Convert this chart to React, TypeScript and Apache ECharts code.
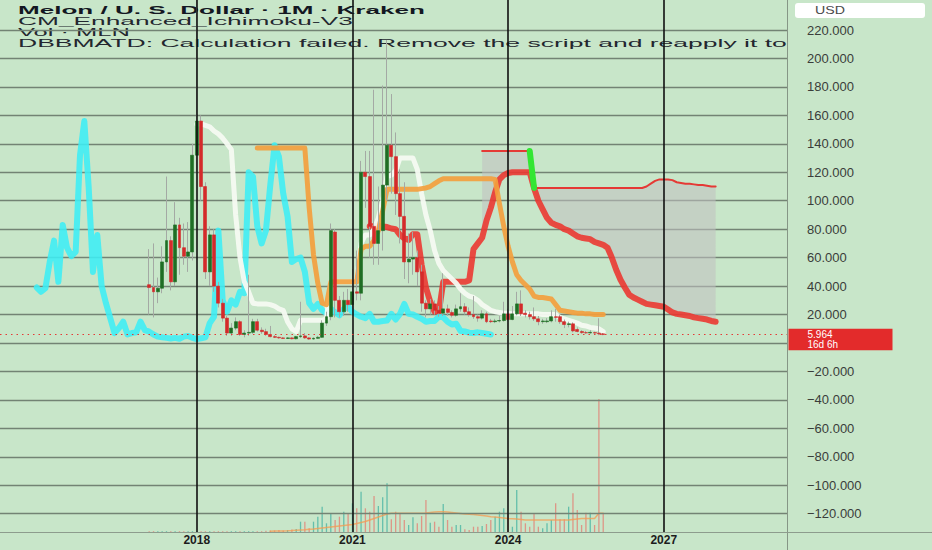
import React, { useEffect, useRef } from "react";
import * as echarts from "echarts";

// ---------- axis categories (monthly) ----------
const AXIS_START_YEAR = 2014;
const AXIS_START_MONTH = 4;
const MONTH_COUNT = 182;
const categories: string[] = [];
for (let i = 0; i < MONTH_COUNT; i++) {
  const m = AXIS_START_MONTH - 1 + i;
  const y = AXIS_START_YEAR + Math.floor(m / 12);
  const mm = (m % 12) + 1;
  categories.push(`${y}-${String(mm).padStart(2, "0")}`);
}
const yearTicks = ["2018-01", "2021-01", "2024-01", "2027-01"];

// ---------- price candles [open, close, low, high], monthly from 2017-02 ----------
const CANDLE_START = "2017-02";
const candles: [number, number, number, number][] = [
  [41, 39, 20, 66], [39, 36, 18, 70], [36, 38.5, 28, 46], [38.5, 57, 35, 68], [57, 72, 50, 117],
  [72, 43, 37, 75], [43, 83, 40, 99], [83, 67, 48, 88], [67, 61, 55, 84], [61, 64, 50, 85], [64, 132, 58, 140],
  // 2018
  [132, 156, 120, 275], [156, 110, 100, 160], [110, 50, 45, 113], [50, 76, 40, 82], [76, 40, 36, 80], [40, 28, 25, 43],
  [28, 17.5, 15, 31], [17.5, 7, 5, 19], [7, 10.5, 5, 14], [10.5, 15, 9, 18], [15, 6, 5, 16], [6, 7, 4, 9],
  // 2019
  [7, 7.5, 5, 48], [7.5, 15, 6.5, 17], [15, 9, 8, 17], [9, 8, 6.5, 11], [8, 6, 5, 10], [6, 4.5, 4, 12],
  [4.5, 4, 3.5, 5.5], [4, 3.6, 3, 4.5], [3.6, 3.2, 2.8, 4], [3.2, 3.6, 2.8, 4.2], [3.6, 3, 2.6, 4], [3, 4.5, 2.6, 5],
  // 2020
  [4.5, 5, 3.5, 29], [5, 3.6, 3, 7], [3.6, 2.8, 2.3, 4], [2.8, 3.3, 2.5, 4], [3.3, 4, 3, 5], [4, 14, 3.8, 16],
  [14, 18.5, 12, 22], [18.5, 79, 16, 84], [78, 30, 18, 80], [30, 22, 18, 33], [22, 30, 19, 36], [30, 27, 22, 38],
  // 2021
  [27, 36, 24, 52], [36, 35, 30, 65], [35, 120, 30, 128], [120, 117, 95, 135], [117, 82, 60, 135], [82, 70, 55, 178],
  [70, 79, 55, 110], [79, 111, 65, 181], [111, 139, 100, 213], [139, 131, 105, 175], [131, 105, 90, 148], [105, 89, 70, 122],
  // 2022
  [89, 57, 45, 113], [57, 59, 42, 77], [59, 60, 48, 78], [60, 50, 40, 65], [50, 28, 22, 55], [28, 24, 18, 30],
  [24, 27.5, 20, 31], [27.5, 23, 20, 30], [23, 21, 18.5, 26], [21, 24, 19, 49], [24, 21.5, 19, 27], [21.5, 19.5, 18, 23],
  // 2023
  [19.5, 24, 18.5, 27], [24, 25.5, 22, 35], [25.5, 22, 20, 28], [22, 20, 18.5, 25], [20, 18.5, 17, 33], [18.5, 17.5, 15, 20],
  [17.5, 20.5, 16.5, 23], [20.5, 15, 14, 22], [15.5, 15, 14, 17], [15, 15.5, 14, 17], [15.5, 15.8, 14.5, 19], [15.8, 20.5, 15, 29],
  // 2024
  [20.5, 16.5, 15.5, 24], [16.5, 20.5, 16, 26], [20.5, 27.5, 19.5, 36], [27.5, 20.5, 19, 37], [21, 20, 18, 23], [20, 18.5, 16.5, 22],
  [18.5, 17, 15.5, 25], [17, 15, 12.5, 19], [15, 15.5, 13.5, 17], [15, 15.5, 14, 17.5], [15.5, 18.5, 14.5, 23], [18.5, 18, 15, 24],
  // 2025
  [18.5, 15, 13.5, 20], [15, 13, 10.5, 16.5], [13, 13.5, 11, 15], [13.5, 8.5, 7.5, 14.5], [9.5, 8.1, 7.5, 11], [8.1, 7.3, 6.5, 9],
  [7.3, 7.1, 6.5, 8.5], [7.1, 7.5, 6.6, 9], [7.3, 7, 6.5, 8], [7, 6.5, 5.5, 17.4], [6.5, 5.964, 5.5, 7],
];
const LAST_PRICE = 5.964;
const COUNTDOWN = "16d 6h";

// ---------- volume (same months as candles) ----------
const volume = [
  0.8, 0.8, 0.8, 0.8, 0.8, 0.8, 0.8, 0.8, 0.8, 0.8, 0.8, 0.8, 0.8, 0.8, 0.8, 0.8, 0.8, 0.8, 0.8, 0.8, 0.8, 0.8, 0.8, 0.8, 0.8, 0.8, 0.8,
  1.2, 1.5, 1.5, 2, 1.5, 2, 2.5, 3,
  10.3, 10.3, 3.7, 10.3, 15.3, 25.3, 8.7, 18.7, 12, 15.3, 20.3, 18.7, 28.7, 23.7, 40.3, 23.7, 20.3, 36, 26, 34.7, 48.7,
  12.7, 20.3, 18.7, 12, 7, 14.7, 8.7, 16, 32, 9.3, 10.3, 5.3, 28, 12, 5.3, 7, 7, 2.7, 2, 5.3, 5.3, 6, 8, 12, 15.3, 20.3,
  23.7, 18, 5.3, 42, 20.3, 8.7, 5.3, 18.7, 5.3, 3.7, 8.7, 12, 28.7, 12.7, 12.7, 25.3, 38.7, 22, 7, 19.3, 19.3, 7, 133, 18.7,
];
const VOLUME_MA_START = "2019-06";
const volumeMA = [
  0.8, 0.9, 1, 1.1, 1.2, 1.4, 1.7, 2, 2.3, 2.7, 3, 3.5, 4, 4.5, 5, 5.5, 6, 6.5, 7, 7.5, 8.5, 9.5, 10.5, 12, 13.5, 15, 16.5, 18,
  18.7, 18.7, 18.7, 18.7, 18.7, 18.7, 18.7, 18.7,
  19, 19.5, 20, 20.3, 20.3, 20, 19.5, 19, 18.5, 18, 17.7, 17.5, 17, 16.5, 16, 15.3, 15, 14.5, 14, 13.5, 13.3, 13,
  12.5, 12, 12, 12, 12, 12, 12, 12, 12, 12, 12, 12,
  12.5, 13, 13.5, 13.5, 13.5, 13.5, 18.7, 18.7,
];

// ---------- Ichimoku lines ----------
const CHIKOU_SHIFT = 26; // lagging span = closes drawn 26 months back
const TENKAN_START = "2018-01";
const tenkan = [
  154, 154, 153, 152, 149, 147, 144, 140, 136, 90, 60, 43, 36, 28, 27.5, 27.5, 27.5, 27, 26, 24, 23, 15, 10, 8,
  16, 16, 16, 16, 16, 16, 17, 43, 43, 43, 43, 43, 43, 44, 70, 76, 76, 80, 88, 100, 117, 118, 121, 130, 130, 130, 130,
  122, 105, 90, 79, 65, 56, 51, 48, 45, 42, 38, 35, 33, 32, 30, 27, 25, 23, 22, 21.5, 21, 21,
  20.5, 20.5, 20.5, 20.5, 20.5, 20.5, 20.5, 20, 20, 20, 20, 18, 17, 16, 15, 14, 12.5, 12, 11, 10.5, 10, 8,
];
const KIJUN_START = "2019-03";
const kijun = [
  137, 137, 137, 137, 137, 137, 137, 137, 137, 137, 137, 137, 95, 62, 42, 28, 27, 43, 43, 43, 43, 43, 43, 43,
  66, 68, 68, 72, 79, 93, 108, 108, 108, 108, 108, 108, 108, 108, 108.5, 109, 110, 112, 114, 115.5,
  115.5, 115.5, 115.5, 115.5, 115.5, 115.5, 115.5, 115.5, 115.5, 115.5, 115.5,
  115, 98, 82, 68, 57, 48, 44, 41, 38, 33, 32, 32, 31.5, 31, 27, 23, 22.5, 22, 21.5, 21, 21, 20.5, 20.5, 20, 20, 20,
];
const SENKOU_A_START = "2021-05";
const senkouA = [
  82, 82, 82, 82, 81.5, 80.5, 80, 76, 73.5, 72.5, 76.5, 76.5, 55, 39, 29, 22, 22, 43, 43, 43, 43, 43, 43, 44,
  66, 70, 74, 86, 95, 106, 115, 118, 119.5, 120, 120, 120, 120, 120,
  109, 100, 94, 88, 84.5, 83, 82, 80, 79, 77, 75, 74, 73.5, 73, 71, 70, 69, 67,
  60, 51.5, 44.5, 39, 34, 32, 30.5, 29, 27.5, 27, 26.5, 26, 25.5, 23.5, 21.5, 20.5, 20, 19.5, 19, 18, 17.5, 17, 16.5, 15.5, 15,
];
const SENKOU_B_START = "2023-07";
const senkouB = [
  135, 135, 135, 135, 135, 135, 135, 135, 135, 135, 135, 135,
  109, 109, 109, 109, 109, 109, 109, 109, 109, 109, 109, 109, 109, 109, 109, 109, 109, 109, 109, 109, 109, 109, 109, 109, 109, 109,
  110, 112, 114, 115, 115, 115, 114.5, 113, 112.5, 112, 112, 111.5, 111, 111, 110.5, 110, 110,
];
const SENKOU_CROSS_START = "2024-06";
const senkouCross = [135, 109];

// ---------- header texts ----------
const headerLines = [
  "Melon / U. S. Dollar · 1M · Kraken",
  "CM_Enhanced_Ichimoku-V3",
  "Vol · MLN",
  "DBBMATD: Calculation failed. Remove the script and reapply it to",
];
const currencyLabel = "USD";

const FONT = '"Liberation Sans", Arial, sans-serif';
const BG = "#c8e6c9";

function ci(key: string) {
  return categories.indexOf(key);
}
function place(start: string, values: (number | null | object)[]) {
  const out: any[] = new Array(categories.length).fill(null);
  const s = ci(start);
  values.forEach((v, i) => {
    if (s + i >= 0 && s + i < out.length) out[s + i] = v;
  });
  return out;
}
function textWidth(text: string, font: string) {
  const ctx = document.createElement("canvas").getContext("2d");
  if (!ctx) return text.length * 7;
  ctx.font = font;
  return ctx.measureText(text).width;
}

export default function App() {
  const ref = useRef<HTMLDivElement>(null);

  useEffect(() => {
    if (!ref.current) return;
    const chart = echarts.init(ref.current, undefined, { renderer: "svg" });

    const c0 = ci(CANDLE_START);
    const wickData = candles.map(([o, c, l, h], i) => [c0 + i, o, c, l, h]);
    const bodyData = candles.map(([o, c], i) => [c0 + i, o, c, Math.min(o, c), Math.max(o, c)]);
    const closes = candles.map((k) => k[1]);
    const chikou = place(categories[c0 - CHIKOU_SHIFT], closes);

    const VOL_UP = "rgba(38,166,154,0.62)";
    const VOL_DOWN = "rgba(239,83,80,0.55)";
    const volData = place(
      CANDLE_START,
      volume.map((v, i) => ({
        value: v,
        itemStyle: { color: candles[i][1] >= candles[i][0] ? VOL_UP : VOL_DOWN },
      }))
    );

    const aFull = place(SENKOU_A_START, senkouA);
    const bFull = place(SENKOU_B_START, senkouB);
    const cloudBase = bFull.map((b, i) => (b == null || aFull[i] == null ? null : Math.min(b, aFull[i])));
    const cloudSpan = bFull.map((b, i) => (b == null || aFull[i] == null ? null : Math.abs(b - aFull[i])));

    // split line colours: hide the lines at -140 (below pane), 240 and the top extent
    const gridColors: string[] = [];
    for (let i = 0; i < 21; i++) gridColors.push(i === 0 || i >= 19 ? "rgba(0,0,0,0)" : "#738374");

    // header text widths (the reference is horizontally stretched)
    const HF = 11;
    const boldFont = `bold ${HF}px ${FONT}`;
    const regFont = `${HF}px ${FONT}`;
    const s1 = 407 / textWidth(headerLines[0], boldFont);
    const s2 = 335 / textWidth(headerLines[1], regFont);
    const s3 = 112 / textWidth(headerLines[2], regFont);
    const s4 = 625 / textWidth("DBBMATD: Calculation failed. Remove the script and", regFont);
    const headerY = [9.8, 21, 32.3, 43];
    const headerScale = [s1, s2, s3, s4];
    const usdScale = 30 / textWidth(currencyLabel, `10px ${FONT}`);

    const thinLine = (name: string, data: any[], color: string, width: number, z = 3, opacity = 1) => ({
      name,
      type: "line",
      data,
      symbol: "none",
      showSymbol: false,
      connectNulls: false,
      z,
      lineStyle: { color, width, opacity, cap: "round", join: "round" },
      silent: true,
    });

    const option: any = {
      animation: false,
      backgroundColor: BG,
      grid: { left: 0, right: 145, top: 0, bottom: 7.8, containLabel: false },
      xAxis: {
        type: "category",
        data: categories,
        boundaryGap: true,
        offset: -10,
        z: 2,
        axisLine: { show: false },
        axisTick: { show: false },
        splitLine: { show: false },
        axisLabel: {
          interval: (_i: number, v: string) => yearTicks.includes(v),
          formatter: (v: string) => v.slice(0, 4),
          margin: 2,
          fontSize: 12,
          fontWeight: "bold",
          fontFamily: FONT,
          color: "#1c1c1c",
        },
      },
      yAxis: [
        {
          type: "value",
          position: "right",
          min: -140,
          max: 241.1,
          interval: 20,
          z: 2,
          axisLine: { show: false },
          axisTick: { show: false },
          axisLabel: {
            margin: 20,
            fontSize: 13,
            fontFamily: FONT,
            color: "#3a3d3a",
            formatter: (v: number) => {
              if (v <= -139.9 || v >= 239.9 || Math.abs(v) < 1e-9) return "";
              return v < 0 ? "\u2212" + Math.abs(v).toFixed(3) : v.toFixed(3);
            },
          },
          splitLine: { show: true, lineStyle: { color: gridColors, width: 1.3 } },
        },
        {
          type: "value",
          min: -10.2,
          max: 532,
          show: false,
          splitLine: { show: false },
        },
      ],
      graphic: [
        ...headerLines.map((t, i) => ({
          type: "text",
          x: 18,
          y: headerY[i],
          scaleX: headerScale[i],
          z: 0,
          silent: true,
          style: {
            text: t,
            fill: i === 0 ? "#131722" : "#23262f",
            fontSize: HF,
            fontWeight: i === 0 ? "bold" : "normal",
            fontFamily: FONT,
            align: "left",
            verticalAlign: "middle",
          },
        })),
        { type: "rect", shape: { x: 788, y: 0, width: 144, height: 532 }, style: { fill: BG }, z: 1, silent: true },
        { type: "line", shape: { x1: 787.5, y1: 0, x2: 787.5, y2: 550 }, style: { stroke: "#869686", lineWidth: 1 }, z: 3, silent: true },
        { type: "line", shape: { x1: 0, y1: 532.5, x2: 932, y2: 532.5 }, style: { stroke: "#8d9c8d", lineWidth: 1 }, z: 3, silent: true },
        { type: "rect", shape: { x: 795, y: 3, width: 130, height: 15, r: 3 }, style: { fill: "#ffffff" }, z: 11, silent: true },
        {
          type: "text",
          x: 815,
          y: 10.8,
          scaleX: usdScale,
          z: 12,
          silent: true,
          style: { text: currencyLabel, fill: "#4a4a4a", fontSize: 10, fontFamily: FONT, align: "left", verticalAlign: "middle" },
        },
      ],
      series: [
        {
          name: "Volume",
          type: "bar",
          yAxisIndex: 1,
          data: volData,
          barWidth: 1.3,
          z: 1,
          silent: true,
        },
        { ...thinLine("Volume MA", place(VOLUME_MA_START, volumeMA), "rgba(245,155,80,0.75)", 1.5, 1), yAxisIndex: 1 },
        {
          name: "Cloud base",
          type: "line",
          data: cloudBase,
          stack: "cloud",
          symbol: "none",
          lineStyle: { opacity: 0 },
          z: 2,
          silent: true,
        },
        {
          name: "Cloud",
          type: "line",
          data: cloudSpan,
          stack: "cloud",
          symbol: "none",
          lineStyle: { opacity: 0 },
          areaStyle: { color: "rgba(192,192,192,0.8)" },
          z: 2,
          silent: true,
        },
        thinLine("Lead 2", bFull, "#e53935", 2),
        thinLine("Lead 1", aFull, "rgba(236,52,46,0.88)", 6),
        thinLine("Lead cross", place(SENKOU_CROSS_START, senkouCross), "#33e633", 6),
        thinLine("Lagging Span", chikou, "rgba(60,238,245,0.88)", 6),
        thinLine("Conversion Line", place(TENKAN_START, tenkan), "rgba(246,250,242,0.95)", 5),
        thinLine("Base Line", place(KIJUN_START, kijun), "rgba(243,160,62,0.92)", 5),
        {
          name: "Wicks",
          type: "candlestick",
          data: wickData,
          encode: { x: 0, y: [1, 2, 3, 4] },
          barWidth: 0.6,
          z: 4,
          silent: true,
          itemStyle: { color: "#a4a9a4", color0: "#a4a9a4", borderColor: "#a4a9a4", borderColor0: "#a4a9a4", borderWidth: 1 },
        },
        {
          name: "MLNUSD",
          type: "candlestick",
          data: bodyData,
          encode: { x: 0, y: [1, 2, 3, 4] },
          barWidth: 3.4,
          z: 4,
          silent: true,
          itemStyle: { color: "#1f6e24", color0: "#d42a2a", borderColor: "#1f6e24", borderColor0: "#d42a2a", borderWidth: 0.6 },
        },
        {
          name: "Marks",
          type: "line",
          data: categories.map(() => null),
          symbol: "none",
          z: 10,
          silent: true,
          markLine: {
            silent: true,
            symbol: ["none", "none"],
            animation: false,
            data: [
              ...yearTicks.map((k) => [
                { coord: [k, 241.1], lineStyle: { color: "#111111", width: 1.6, type: "solid" }, label: { show: false } },
                { coord: [k, -132.9] },
              ]),
              {
                yAxis: LAST_PRICE,
                lineStyle: { color: "#e53935", width: 1, type: [1.5, 4] },
                label: {
                  show: true,
                  position: "end",
                  distance: 1.5,
                  offset: [0, 5],
                  formatter: `${LAST_PRICE}\n${COUNTDOWN}`,
                  color: "#ffffff",
                  backgroundColor: "#e32b2b",
                  fontSize: 10,
                  lineHeight: 9.5,
                  fontFamily: FONT,
                  padding: [1.5, 4, 1, 19],
                  width: 81,
                  align: "left",
                },
              },
            ],
          },
        },
      ],
    };

    chart.setOption(option);
    return () => chart.dispose();
  }, []);

  return <div ref={ref} style={{ position: "fixed", left: 0, top: 0, width: 932, height: 550 }} />;
}
